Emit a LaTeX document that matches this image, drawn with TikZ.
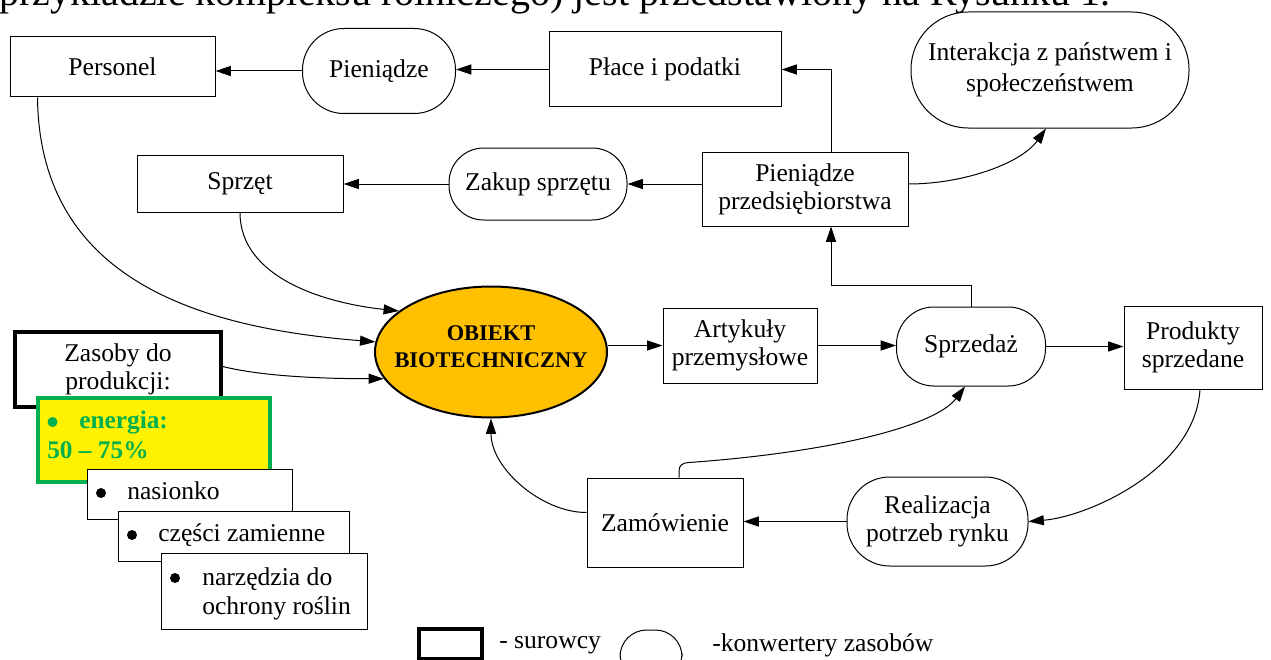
\documentclass[tikz,border=0pt]{standalone}
\usepackage{fontspec}
\setmainfont{Liberation Serif}
\usetikzlibrary{arrows.meta,calc,shapes.geometric}
\definecolor{objfill}{HTML}{FFC000}
\definecolor{energygreen}{HTML}{00B050}

\begin{document}
\begin{tikzpicture}[x=0.75pt,y=-0.75pt,
  every node/.style={inner sep=0pt, font=\fontsize{19.2}{21}\selectfont},
  wh/.style 2 args={minimum width=#1*0.75pt, minimum height=#2*0.75pt},
  box/.style={draw, line width=0.75pt, fill=white, align=center},
  conv/.style={draw, line width=0.75pt, fill=white, align=center},
  raw/.style={draw, line width=2.6pt, fill=white, align=center},
  arr/.style={line width=0.75pt, -{Triangle[length=11.5pt,width=7.5pt]}},
  item/.style={anchor=base west},
  dot/.style={circle, fill=black, minimum size=7.5pt},
]
\useasboundingbox (0,0) rectangle (1271,660);
\clip (0,0) rectangle (1271,660);

% running text above the figure
\node[anchor=base west, font=\fontsize{30}{36}\selectfont] (toptext) at (-1,6)
  {przykładzie kompleksu rolniczego) jest przedstawiony na Rysunku 1.};

% upper row
\node[box, wh={205}{60}] (personel) at (112.5,67) {Personel};
\node[conv, wh={153}{85}, rounded corners=31pt] (pien) at (379,71) {Pieniądze};
\node[box, wh={232}{75}] (place) at (665,69.5) {Płace i podatki};
\node[conv, wh={278}{116}, rounded corners=43pt, font=\fontsize{19.2}{23}\selectfont] (inter) at (1050,70)
  {Interakcja z państwem i\\społeczeństwem};

% second row
\node[box, wh={206}{57}] (sprzet) at (240,183.5) {Sprzęt};
\node[conv, wh={178}{72}, rounded corners=26pt] (zakup) at (538,184) {Zakup sprzętu};
\node[box, wh={206}{74}] (pp) at (805,189) {Pieniądze\\przedsiębiorstwa};

% central object
\node[ellipse, draw, line width=1.5pt, fill=objfill, wh={232}{131}] (obj) at (491,352) {};
\node[align=center, font=\bfseries\fontsize{16.8}{20}\selectfont] (objtext) at (491,347)
  {OBIEKT\\BIOTECHNICZNY};

% middle row
\node[box, wh={154}{75}] (art) at (740,345.5) {Artykuły\\przemysłowe};
\node[conv, wh={149}{79}, rounded corners=28pt] (sprz) at (971,346.5) {Sprzedaż};
\node[box, wh={138}{83}] (prod) at (1193,347.5) {Produkty\\sprzedane};

% lower row
\node[conv, wh={181}{89}, rounded corners=32pt] (real) at (937.5,521.5) {Realizacja\\potrzeb rynku};
\node[box, wh={156}{89}] (zam) at (665,522.5) {Zamówienie};

% resources stack
\node[raw, wh={206}{75}] (zas) at (118,369.5) {Zasoby do\\produkcji:};
\node[draw=energygreen, line width=2.4pt, fill=yellow, wh={232}{84}] (energ) at (154,440) {};
\node[dot, fill=energygreen] (energb) at (52.5,422) {};
\node[item, text=energygreen, font=\bfseries\fontsize{19}{22}\selectfont] (energt) at (79,428) {energia:};
\node[item, text=energygreen, font=\bfseries\fontsize{19}{22}\selectfont] (energv) at (47,458) {50 – 75\%};

\node[box, wh={205}{50}] (nas) at (189.5,494) {};
\node[dot] (nasb) at (101,493) {};
\node[item] (nast) at (127,499) {nasionko};

\node[box, wh={231}{50}] (czes) at (233.5,536) {};
\node[dot] (czesb) at (132,535) {};
\node[item] (czest) at (158,541) {części zamienne};

\node[box, wh={206}{76}] (narz) at (264,591) {};
\node[dot] (narzb) at (175,578) {};
\node[item] (narzt) at (202,585) {narzędzia do};
\node[item] (narzt2) at (202,614) {ochrony roślin};

% legend
\node[raw, wh={63}{30}] (legraw) at (450.5,644) {};
\node[anchor=west] (legrawt) at (499,645) {- surowcy};
\node[conv, wh={62}{50}, rounded corners=20pt] (legconv) at (651,655) {};
\node[anchor=west] (legconvt) at (712,645) {-konwertery zasobów};

% money flows
\draw[arr] (place.west) -- (place.west -| pien.east);
\draw[arr] (pien.west) -- (pien.west -| personel.east);
\coordinate (ppup) at ($(pp.north)+(26,0)$);
\coordinate (ppdown) at ($(pp.south)+(26,0)$);
\draw[arr] (ppup) |- (place.east);
\draw[arr] ($(pp.east)+(0,-5)$) .. controls +(55,0) and +(-25,35) .. ($(inter.south)+(-4,0)$);
\draw[arr] (zakup.east -| pp.west) -- (zakup.east);
\draw[arr] (zakup.west) -- (zakup.west -| sprzet.east);
\draw[arr] (sprz.north) -- ++(0,-21) -| (ppdown);

% material flows
\draw[arr] (art.west -| obj.east) -- (art.west);
\draw[arr] (art.east) -- (art.east -| sprz.west);
\draw[arr] (sprz.east) -- (sprz.east -| prod.west);
\draw[arr] ($(prod.south)+(7,0)$) .. controls +(-5,80) and +(60,-5) .. (real.east);
\draw[arr] (real.west) -- (real.west -| zam.east);
\draw[arr] ($(zam.north)+(14,0)$) -- ++(0,-7) .. controls +(0,-5) and +(-6,0) .. ++(10,-8)
  .. controls +(140,-10) and +(-30,40) .. ($(sprz.south)+(-6,0)$);
\draw[arr] ($(zam.west)+(0,-10)$) .. controls +(-45,0) and +(0,50) .. (obj.south);

% inputs of the object
\draw[arr] ($(personel.south west)+(28,0)$) .. controls +(2,183) and +(-175,-14) .. (obj.175);
\draw[arr] (sprzet.south) .. controls +(0,65) and +(-75,-8) .. (obj.156);
\draw[arr] ($(zas.east)+(0,-3)$) .. controls +(40,10) and +(-60,0) .. (obj.194);
\end{tikzpicture}
\end{document}
